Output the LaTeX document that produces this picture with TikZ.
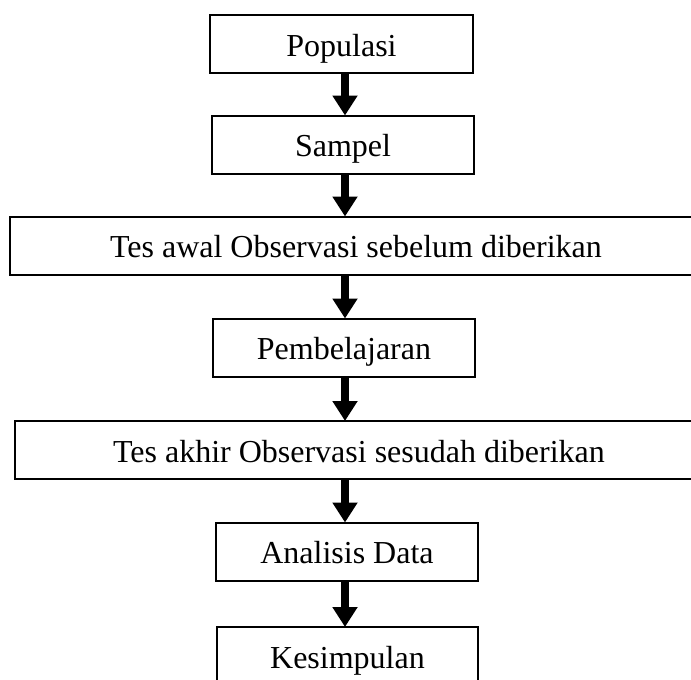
\documentclass[tikz,border=0pt]{standalone}
\usepackage{fontspec}
\setmainfont{Liberation Serif}
\usetikzlibrary{arrows.meta}
\begin{document}
\begin{tikzpicture}[x=1pt,y=-1pt,
  box/.style={draw=black, line width=2pt, fill=white, inner sep=0pt,
    font=\fontsize{32}{38}\selectfont, text height=24pt, text depth=0pt,
    minimum height=58pt},
  arr/.style={draw=black, line width=8pt, -{Triangle[width=24pt,length=20pt]}}]
\useasboundingbox (0,0) rectangle (691,680);
\begin{scope}
\clip (0,0) rectangle (691,680);
\node[box, minimum width=263pt] (pop) at (341.5,44) {Populasi};
\node[box, minimum width=262pt] (samp) at (343,144.5) {Sampel};
\node[box, minimum width=692pt] (awal) at (356,245.5) {Tes awal Observasi sebelum diberikan};
\node[box, minimum width=262pt] (pemb) at (344,347.5) {Pembelajaran};
\node[box, minimum width=688pt] (akhir) at (359,450) {Tes akhir Observasi sesudah diberikan};
\node[box, minimum width=262pt] (anal) at (347,551.5) {Analisis Data};
\node[box, minimum width=261pt] (kes) at (347.5,656) {Kesimpulan};
\coordinate (ax) at (345,0);
\draw[arr] (pop.south -| ax) -- ([yshift=-1pt]samp.north -| ax);
\draw[arr] (samp.south -| ax) -- ([yshift=-1pt]awal.north -| ax);
\draw[arr] (awal.south -| ax) -- ([yshift=-1pt]pemb.north -| ax);
\draw[arr] (pemb.south -| ax) -- ([yshift=-1pt]akhir.north -| ax);
\draw[arr] (akhir.south -| ax) -- ([yshift=-1pt]anal.north -| ax);
\draw[arr] (anal.south -| ax) -- ([yshift=-1pt]kes.north -| ax);
\end{scope}
\end{tikzpicture}
\end{document}
